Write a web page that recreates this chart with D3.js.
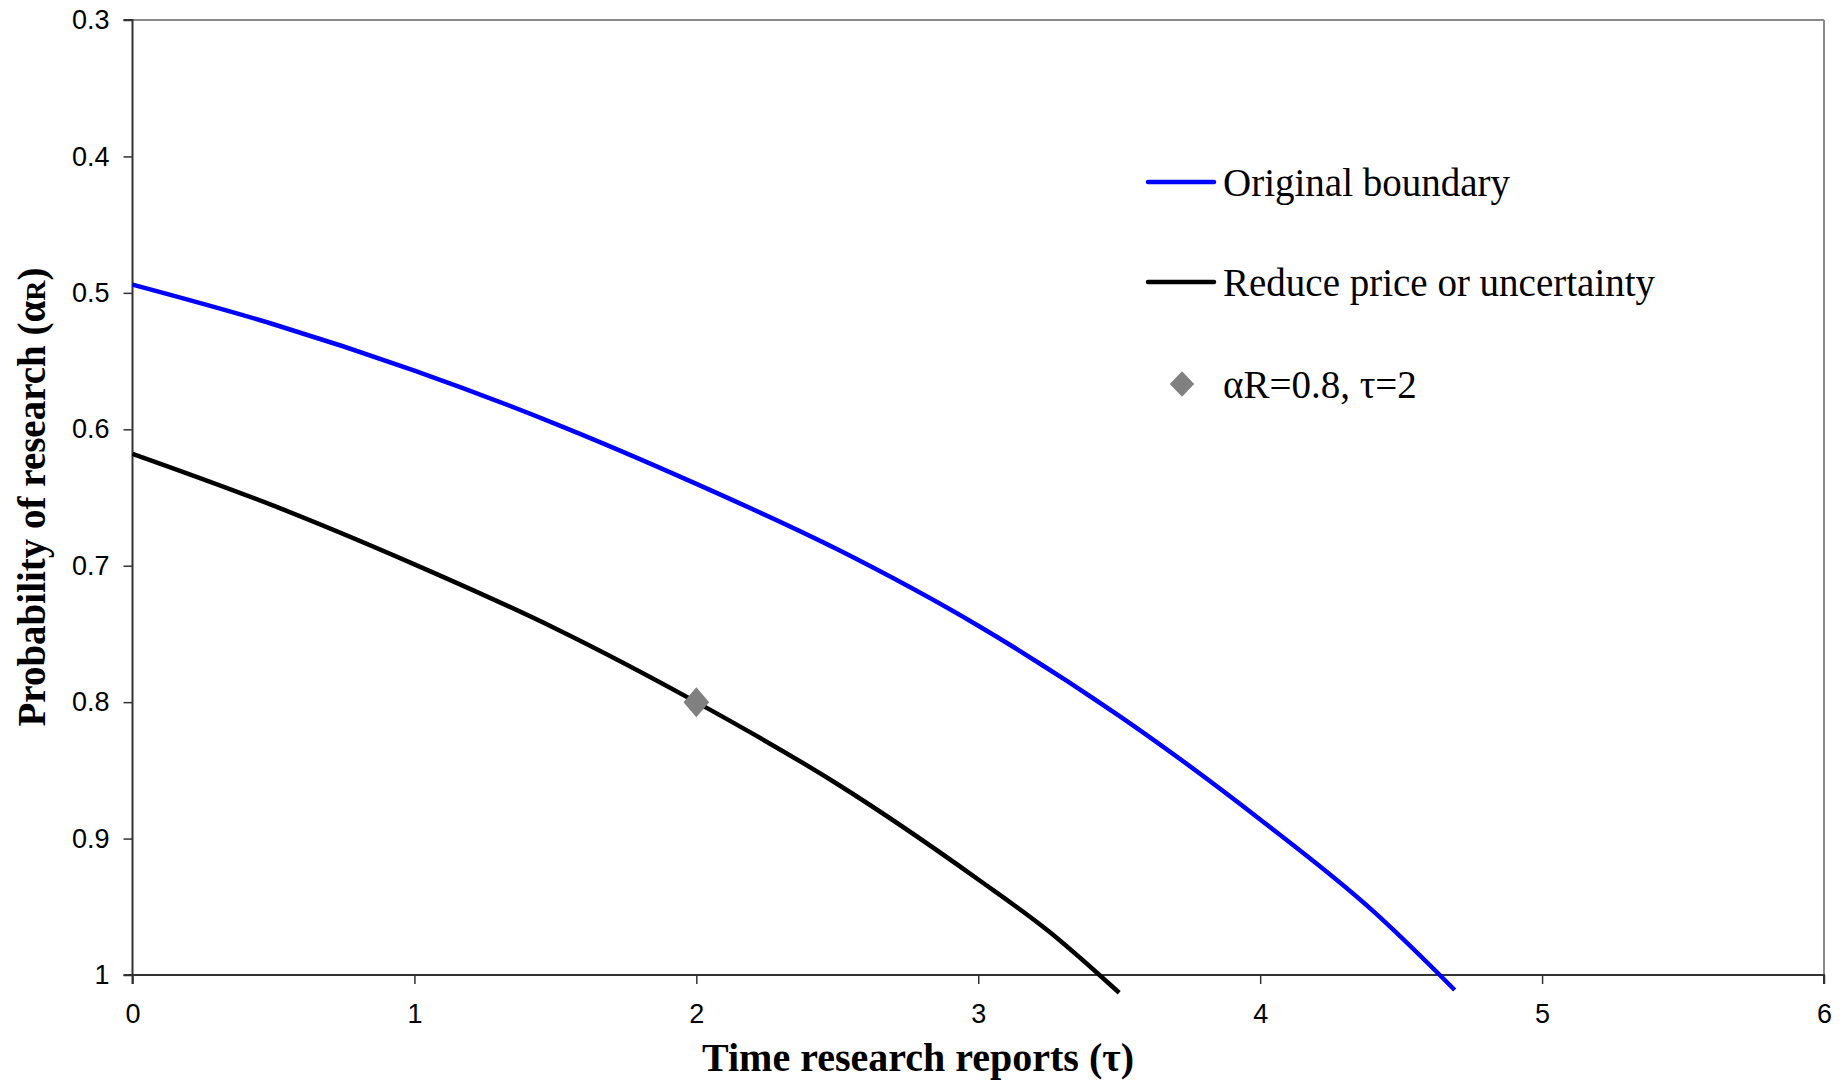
<!DOCTYPE html>
<html>
<head>
<meta charset="utf-8">
<script src="https://cdn.jsdelivr.net/npm/d3@7"></script>
<style>
  html, body { margin: 0; padding: 0; background: #fff; }
  svg { display: block; }
</style>
</head>
<body>
<svg id="chart" width="1848" height="1083"></svg>
<script>
// ---- data ----
const xTicks = [0, 1, 2, 3, 4, 5, 6];
const yTicks = [0.3, 0.4, 0.5, 0.6, 0.7, 0.8, 0.9, 1];

const originalTau   = [0, 0.5, 1.0, 1.5, 2.0, 2.5, 3.0, 3.5, 4.0, 4.4, 4.637, 4.69];
const originalAlpha = [0.494, 0.523, 0.557, 0.596, 0.640, 0.688, 0.744, 0.810, 0.886, 0.953, 1.0, 1.011];

const reducedTau   = [0, 0.5, 1.0, 1.5, 2.0, 2.5, 3.0, 3.25, 3.43, 3.5];
const reducedAlpha = [0.618, 0.656, 0.699, 0.746, 0.800, 0.860, 0.930, 0.968, 1.0, 1.013];

const pointTau = [2];
const pointAlpha = [0.8];

const legendLabels = ["Original boundary", "Reduce price or uncertainty", "αR=0.8, τ=2"];

// ---- layout ----
const svg = d3.select("#chart");
const pLeft = 132.5, pRight = 1824, pTop = 20, pBottom = 975;

const x = d3.scaleLinear().domain([0, 6]).range([pLeft, pRight]);
const y = d3.scaleLinear().domain([0.3, 1]).range([pTop, pBottom]);

// frame: top & right grey
svg.append("line").attr("x1", pLeft).attr("x2", pRight).attr("y1", pTop).attr("y2", pTop)
  .attr("stroke", "#8a8a8a").attr("stroke-width", 2);
svg.append("line").attr("x1", pRight).attr("x2", pRight).attr("y1", pTop).attr("y2", pBottom)
  .attr("stroke", "#8a8a8a").attr("stroke-width", 2);

// axes
const yAxis = d3.axisLeft(y).tickValues(yTicks).tickFormat(d => d === 1 ? "1" : d3.format(".1f")(d))
  .tickSize(9).tickPadding(14);
const xAxis = d3.axisBottom(x).tickValues(xTicks).tickFormat(d3.format("d"))
  .tickSize(9).tickPadding(20);

const gy = svg.append("g").attr("transform", `translate(${pLeft},0)`).call(yAxis);
const gx = svg.append("g").attr("transform", `translate(0,${pBottom})`).call(xAxis);

[gx, gy].forEach(g => {
  g.select(".domain").attr("stroke", "#333").attr("stroke-width", 2);
  g.selectAll(".tick line").attr("stroke", "#333").attr("stroke-width", 1.5);
  g.selectAll(".tick text").attr("fill", "#000")
    .style("font-family", "'Liberation Sans', Arial, sans-serif").style("font-size", "27px");
});
gy.select(".domain").attr("d", `M-9,${pTop}H0V${pBottom}H-9`);
gx.select(".domain").attr("d", `M${pLeft},9V0H${pRight}V9`);

// lines
const line = d3.line().x(d => x(d[0])).y(d => y(d[1])).curve(d3.curveMonotoneX);
const orig = originalTau.map((t, i) => [t, originalAlpha[i]]);
const red = reducedTau.map((t, i) => [t, reducedAlpha[i]]);

svg.append("path").datum(orig).attr("d", line).attr("fill", "none")
  .attr("stroke", "#0000ff").attr("stroke-width", 4.5);
svg.append("path").datum(red).attr("d", line).attr("fill", "none")
  .attr("stroke", "#000").attr("stroke-width", 4.5);

// point
const diamond = d3.symbol().type(d3.symbolDiamond2).size(520);
svg.selectAll(".pt").data(pointTau.map((t, i) => [t, pointAlpha[i]])).enter()
  .append("path").attr("class", "pt")
  .attr("d", diamond)
  .attr("transform", d => `translate(${x(d[0])},${y(d[1])}) scale(0.9,1.05)`)
  .attr("fill", "#808080");

// legend
const serif = "'Liberation Serif', 'Times New Roman', serif";
const lg = svg.append("g");
const rowsY = [182, 282, 384];
lg.append("line").attr("x1", 1148).attr("x2", 1214).attr("y1", rowsY[0]).attr("y2", rowsY[0])
  .attr("stroke", "#0000ff").attr("stroke-width", 4.5).attr("stroke-linecap", "round");
lg.append("line").attr("x1", 1148).attr("x2", 1214).attr("y1", rowsY[1]).attr("y2", rowsY[1])
  .attr("stroke", "#000").attr("stroke-width", 4.5).attr("stroke-linecap", "round");
lg.append("path").attr("d", d3.symbol().type(d3.symbolDiamond2).size(420))
  .attr("transform", `translate(1182,${rowsY[2]}) scale(0.95,1)`).attr("fill", "#808080");
legendLabels.forEach((t, i) => {
  lg.append("text").attr("x", 1223).attr("y", rowsY[i] + 13.5)
    .style("font-family", serif).style("font-size", "39px").attr("fill", "#000")
    .text(t);
});

// axis titles
svg.append("text").attr("x", 918).attr("y", 1071).attr("text-anchor", "middle")
  .style("font-family", serif).style("font-size", "40px").style("font-weight", "bold")
  .text("Time research reports (τ)");

const yt = svg.append("text").attr("transform", `translate(45,497) rotate(-90)`)
  .attr("text-anchor", "middle")
  .style("font-family", serif).style("font-size", "39px").style("font-weight", "bold");
yt.append("tspan").text("Probability of research (α");
yt.append("tspan").style("font-size", "28px").text("R");
yt.append("tspan").text(")");
</script>
</body>
</html>
